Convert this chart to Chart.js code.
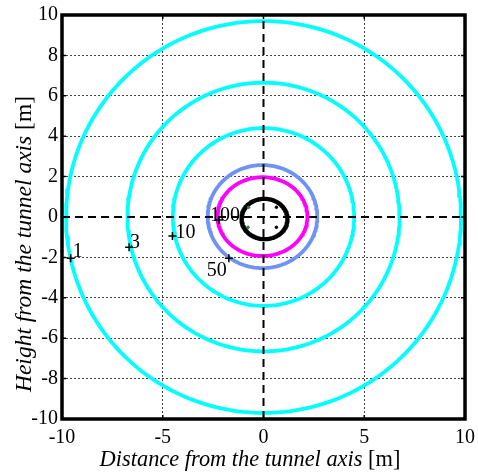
<!DOCTYPE html>
<html>
<head>
<meta charset="utf-8">
<script src="https://cdn.jsdelivr.net/npm/chart.js@4.4.0/dist/chart.umd.min.js"></script>
<style>
html, body { margin: 0; padding: 0; background: #fff; }
#wrap { width: 478px; height: 473px; }
</style>
</head>
<body>
<div id="wrap"><canvas id="myChart"></canvas></div>
<script>
// contour levels and their (slightly elliptic) shapes
const levels = ['1', '3', '10', '50', '100'];
const centerX = [0, 0, 0, -0.05, -0.05];
const centerY = [0, 0, 0, 0.02, 0.02];
const radiusX = [9.8, 6.75, 4.5, 2.72, 2.23];
const radiusY = [9.7, 6.65, 4.4, 2.55, 1.95];

// where each contour label sits
const labelX = [-9.57, -6.67, -4.52, -1.72, -2.21];
const labelY = [-2.04, -1.5, -0.94, -2.04, -0.15];

// tunnel outline and the four small points inside it
const tunnelCenter = [0.05, -0.1];
const tunnelRadius = [1.14, 1.0];
const dotX = [-0.74, 0.64, -0.77, 0.64];
const dotY = [0.48, 0.48, -0.51, -0.51];

const xTicks = [-10, -5, 0, 5, 10];
const yTicks = [-10, -8, -6, -4, -2, 0, 2, 4, 6, 8, 10];

const contourColors = ['#00ffff', '#00ffff', '#00ffff', '#6f93f2', '#ff00ff'];
const dotColors = ['#2e7d32', '#000', '#2e7d32', '#000'];
const serif = "'Liberation Serif', 'Times New Roman', serif";

function ellipse(cx, cy, rx, ry) {
    let pts = [];
    for (let i = 0; i <= 180; i++) {
        let a = i / 180 * 2 * Math.PI;
        pts.push({x: cx + rx * Math.cos(a), y: cy + ry * Math.sin(a)});
    }
    return pts;
}

let datasets = [];

// dashed tunnel axes
datasets.push({
    data: [{x: xTicks[0], y: 0}, {x: xTicks[xTicks.length - 1], y: 0}],
    borderColor: '#000', borderWidth: 2, borderDash: [8, 5], pointRadius: 0, showLine: true, order: 0
});
datasets.push({
    data: [{x: 0, y: yTicks[0]}, {x: 0, y: yTicks[yTicks.length - 1]}],
    borderColor: '#000', borderWidth: 2, borderDash: [8, 5], pointRadius: 0, showLine: true, order: 0
});

// label markers
datasets.push({
    data: labelX.map((x, i) => ({x: x, y: labelY[i]})),
    pointStyle: 'cross', pointRadius: 4, borderColor: '#000', borderWidth: 1.5, showLine: false, order: 1
});

datasets.push({
    data: dotX.map((x, i) => ({x: x, y: dotY[i]})),
    pointStyle: 'circle', pointRadius: 1.3, backgroundColor: dotColors, borderColor: dotColors, showLine: false, order: 1
});

datasets.push({
    data: ellipse(tunnelCenter[0], tunnelCenter[1], tunnelRadius[0], tunnelRadius[1]),
    borderColor: '#000', borderWidth: 4.3, pointRadius: 0, showLine: true, order: 2,
    borderJoinStyle: 'round', borderCapStyle: 'round'
});

levels.forEach((lv, i) => {
    datasets.push({
        label: lv,
        data: ellipse(centerX[i], centerY[i], radiusX[i], radiusY[i]),
        borderColor: contourColors[i], borderWidth: 3.8, pointRadius: 0, showLine: true, order: 3,
        borderJoinStyle: 'round', borderCapStyle: 'round'
    });
});

// label text offsets in pixels (relative to the marker)
const labelOffsets = [[2, -1, 'left', 'bottom'], [1, 1, 'left', 'bottom'], [3, 2, 'left', 'bottom'],
                      [-2, 3, 'right', 'top'], [-9, 1, 'left', 'bottom']];

const extras = {
    id: 'extras',
    afterDatasetsDraw(chart) {
        const ctx = chart.ctx;
        const a = chart.chartArea;
        const xs = chart.scales.x, ys = chart.scales.y;
        ctx.save();
        // contour labels
        ctx.fillStyle = '#000';
        ctx.font = '20px ' + serif;
        levels.forEach((lv, i) => {
            const o = labelOffsets[i];
            ctx.textAlign = o[2];
            ctx.textBaseline = 'alphabetic';
            let px = xs.getPixelForValue(labelX[i]) + o[0];
            let py = ys.getPixelForValue(labelY[i]) + o[1];
            if (o[3] === 'top') py += 15;
            ctx.fillText(lv, px, py);
        });
        // inner tick marks
        ctx.strokeStyle = '#000';
        ctx.lineWidth = 1.5;
        xTicks.forEach(v => {
            const px = xs.getPixelForValue(v);
            ctx.beginPath();
            ctx.moveTo(px, a.top); ctx.lineTo(px, a.top + 4);
            ctx.moveTo(px, a.bottom); ctx.lineTo(px, a.bottom - 4);
            ctx.stroke();
        });
        yTicks.forEach(v => {
            const py = ys.getPixelForValue(v);
            ctx.beginPath();
            ctx.moveTo(a.left, py); ctx.lineTo(a.left + 4, py);
            ctx.moveTo(a.right, py); ctx.lineTo(a.right - 4, py);
            ctx.stroke();
        });
        // frame
        ctx.lineWidth = 3.5;
        ctx.strokeRect(a.left, a.top, a.right - a.left, a.bottom - a.top);

        // axis titles: italic text + upright unit
        function mixed(parts, cx, cy, size) {
            let w = 0;
            parts.forEach(p => { ctx.font = p[1] + ' ' + size + 'px ' + serif; w += ctx.measureText(p[0]).width; });
            let x = cx - w / 2;
            ctx.textAlign = 'left';
            ctx.textBaseline = 'middle';
            parts.forEach(p => {
                ctx.font = p[1] + ' ' + size + 'px ' + serif;
                ctx.fillText(p[0], x, cy);
                x += ctx.measureText(p[0]).width;
            });
        }
        ctx.fillStyle = '#000';
        mixed([['Distance from the tunnel axis ', 'italic'], ['[m]', 'normal']], 250, 460, 22.4);
        ctx.save();
        ctx.translate(25, 244);
        ctx.rotate(-Math.PI / 2);
        mixed([['Height from the tunnel axis ', 'italic'], ['[m]', 'normal']], 0, 0, 23.5);
        ctx.restore();
        ctx.restore();
    }
};

const gridColor = ctx => (ctx.tick && (ctx.tick.value === 0 || Math.abs(ctx.tick.value) === 10)) ? 'rgba(0,0,0,0)' : '#444';

new Chart(document.getElementById('myChart').getContext('2d'), {
    type: 'scatter',
    data: {datasets: datasets},
    options: {
        responsive: true,
        maintainAspectRatio: false,
        animation: false,
        layout: {padding: {top: 15, right: 13, left: 0, bottom: 0}},
        plugins: {legend: {display: false}, tooltip: {enabled: false}},
        scales: {
            x: {
                type: 'linear', min: -10, max: 10,
                afterBuildTicks: s => { s.ticks = xTicks.map(v => ({value: v})); },
                afterFit: s => { s.height = 54; s.paddingLeft = 0; s.paddingRight = 0; },
                ticks: {color: '#000', font: {family: serif, size: 20}, padding: 7, maxRotation: 0},
                grid: {color: gridColor, lineWidth: 1, drawTicks: false},
                border: {display: false, dash: [2, 2]}
            },
            y: {
                type: 'linear', min: -10, max: 10,
                afterBuildTicks: s => { s.ticks = yTicks.map(v => ({value: v})); },
                afterFit: s => { s.width = 62; s.paddingTop = 0; s.paddingBottom = 0; },
                ticks: {color: '#000', font: {family: serif, size: 20}, padding: 4},
                grid: {color: gridColor, lineWidth: 1, drawTicks: false},
                border: {display: false, dash: [2, 2]}
            }
        }
    },
    plugins: [extras]
});
</script>
</body>
</html>
